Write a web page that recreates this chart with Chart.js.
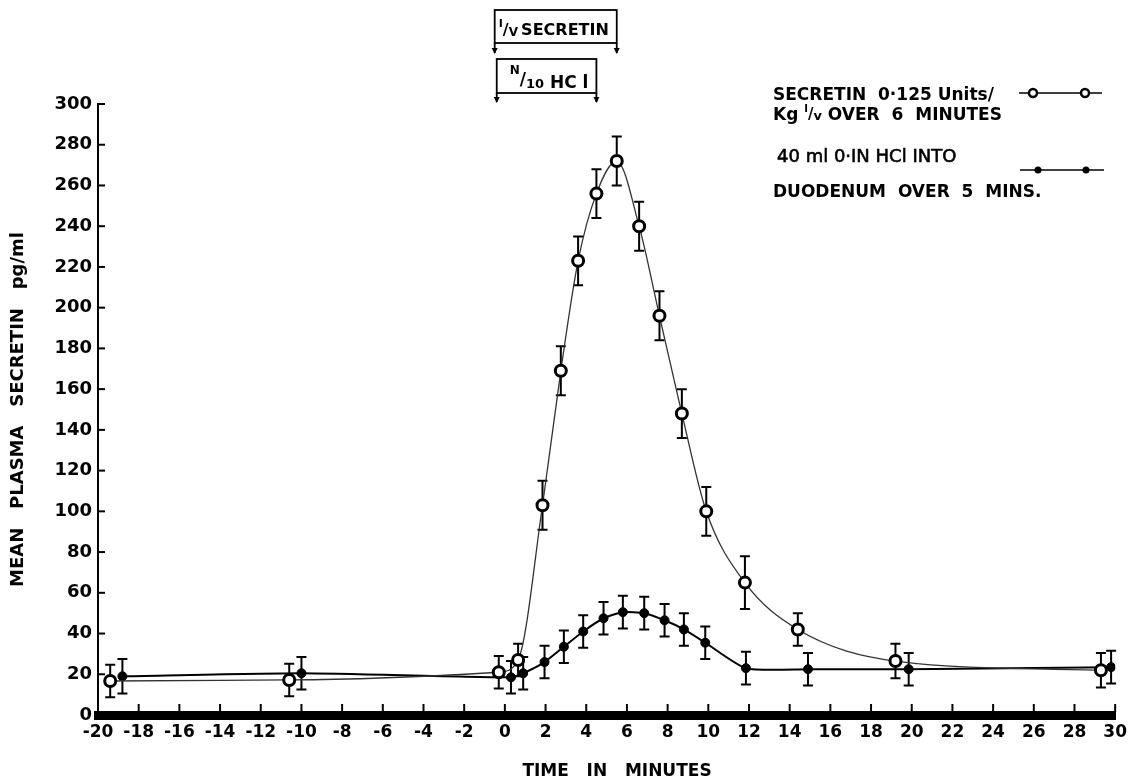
<!DOCTYPE html>
<html>
<head>
<meta charset="utf-8">
<script src="https://cdn.jsdelivr.net/npm/chart.js@4.4.1/dist/chart.umd.min.js"></script>
<style>
    html, body { margin: 0; padding: 0; background: #fff; }
    #wrap { width: 1134px; height: 777px; }
</style>
</head>
<body>
<div id="wrap"><canvas id="secretinChart" width="1134" height="777"></canvas></div>
<script>
// i/v secretin 0.125 U/kg over 6 min (open circles)
const secretinTime = [-19.4, -10.6, -0.3, 0.65, 1.85, 2.75, 3.6, 4.5, 5.5, 6.6, 7.6, 8.7, 9.9, 11.8, 14.4, 19.2, 29.3];
const secretinMean = [16.7, 17.2, 21, 27, 103, 169, 223, 256, 272, 240, 196, 148, 100, 65, 42, 26.5, 22];
const secretinErr  = [8, 8, 8, 8, 12, 12, 12, 12, 12, 12, 12, 12, 12, 13, 8, 8.5, 8.5];

// 40 ml 0.1N HCl into duodenum over 5 min (filled dots)
const hclTime = [-18.8, -10, 0.3, 0.9, 1.95, 2.9, 3.85, 4.85, 5.8, 6.85, 7.85, 8.8, 9.85, 11.85, 14.9, 19.85, 29.8];
const hclMean = [19, 20.5, 18.5, 20.5, 26, 33.5, 41, 47.5, 50.5, 50, 46.5, 42, 35.5, 23, 22.5, 22.5, 23.5];
const hclErr  = [8.5, 8, 8, 8, 8, 8, 8, 8, 8, 8, 8, 8, 8, 8, 8, 8, 8];

// infusion periods marked above the plot (minutes)
const secretinInfusion = [-0.5, 5.5];
const hclInfusion = [-0.4, 4.5];

const FONT = "'DejaVu Sans', sans-serif";

function toPoints(times, values) {
    return times.map((t, i) => ({ x: t, y: values[i] }));
}

function drawErrorBars(chart, times, means, errs) {
    const ctx = chart.ctx;
    const x = chart.scales.x;
    const y = chart.scales.y;
    ctx.save();
    ctx.strokeStyle = "#000";
    ctx.lineWidth = 2;
    times.forEach((t, i) => {
        const px = x.getPixelForValue(t);
        const top = y.getPixelForValue(means[i] + errs[i]);
        const bot = y.getPixelForValue(means[i] - errs[i]);
        ctx.beginPath();
        ctx.moveTo(px, top); ctx.lineTo(px, bot);
        ctx.moveTo(px - 5, top); ctx.lineTo(px + 5, top);
        ctx.moveTo(px - 5, bot); ctx.lineTo(px + 5, bot);
        ctx.stroke();
    });
    ctx.restore();
}

// draws a run of text pieces: [text, fontSize, dy]
function drawPieces(ctx, x, y, pieces, weight) {
    pieces.forEach(p => {
        ctx.font = (weight || "bold") + " " + p[1] + "px " + FONT;
        ctx.fillText(p[0], x, y + p[2]);
        x += ctx.measureText(p[0]).width;
    });
}

function drawArrow(ctx, px, y1, y2) {
    ctx.beginPath();
    ctx.moveTo(px, y1); ctx.lineTo(px, y2);
    ctx.stroke();
    ctx.beginPath();
    ctx.moveTo(px - 3, y2 - 5); ctx.lineTo(px + 3, y2 - 5); ctx.lineTo(px, y2 + 1);
    ctx.closePath();
    ctx.fill();
}

const paperDecor = {
    id: "paperDecor",
    beforeDatasetsDraw(chart) {
        drawErrorBars(chart, secretinTime, secretinMean, secretinErr);
        drawErrorBars(chart, hclTime, hclMean, hclErr);
    },
    afterDraw(chart) {
        const ctx = chart.ctx;
        const x = chart.scales.x;
        const y = chart.scales.y;
        const area = chart.chartArea;
        ctx.save();
        ctx.strokeStyle = "#000";
        ctx.fillStyle = "#000";

        // inward tick marks
        ctx.lineWidth = 2;
        x.ticks.forEach(t => {
            if (t.value === x.min) return;
            const px = x.getPixelForValue(t.value);
            ctx.beginPath();
            ctx.moveTo(px, area.bottom - 3);
            ctx.lineTo(px, area.bottom - 11);
            ctx.stroke();
        });
        y.ticks.forEach(t => {
            if (t.value === y.min) return;
            const py = y.getPixelForValue(t.value);
            ctx.beginPath();
            ctx.moveTo(area.left, py);
            ctx.lineTo(area.left + 7, py);
            ctx.stroke();
        });

        // infusion boxes
        ctx.lineWidth = 1.8;
        let l = x.getPixelForValue(secretinInfusion[0]);
        let r = x.getPixelForValue(secretinInfusion[1]);
        ctx.strokeRect(l, 10, r - l, 33);
        drawArrow(ctx, l, 43, 53);
        drawArrow(ctx, r, 43, 53);
        ctx.textBaseline = "alphabetic";
        drawPieces(ctx, l + 4, 35, [["I", 11, -8], ["/", 16, 0], ["V", 12, 1], ["\u2009SECRETIN", 16, 0]]);

        l = x.getPixelForValue(hclInfusion[0]);
        r = x.getPixelForValue(hclInfusion[1]);
        ctx.strokeRect(l, 59, r - l, 34);
        drawArrow(ctx, l, 93, 102);
        drawArrow(ctx, r, 93, 102);
        drawPieces(ctx, l + 13, 88, [["N", 12, -14], ["/", 17, -3], ["10", 13, 0], [" HC l", 17, 0]]);

        // legend
        drawPieces(ctx, 773, 100, [["SECRETIN  0·125 Units/", 17, 0]]);
        drawPieces(ctx, 773, 120, [["Kg ", 17, 0], ["I", 10, -8], ["/", 15, -1], ["v", 13, 0], [" OVER  6  MINUTES", 17, 0]]);
        ctx.font = "18px " + FONT;
        ctx.lineWidth = 0.6;
        ctx.fillText("40 ml 0·IN HCl INTO", 777, 162);
        ctx.strokeText("40 ml 0·IN HCl INTO", 777, 162);
        drawPieces(ctx, 773, 197, [["DUODENUM  OVER  5  MINS.", 17, 0]]);

        ctx.lineWidth = 1.5;
        ctx.beginPath();
        ctx.moveTo(1019, 93); ctx.lineTo(1102, 93);
        ctx.moveTo(1020, 170); ctx.lineTo(1104, 170);
        ctx.stroke();
        ctx.lineWidth = 2.5;
        [1033, 1085].forEach(cx => {
            ctx.beginPath();
            ctx.arc(cx, 93, 4, 0, Math.PI * 2);
            ctx.fillStyle = "#fff";
            ctx.fill();
            ctx.stroke();
        });
        ctx.fillStyle = "#000";
        [1038, 1086].forEach(cx => {
            ctx.beginPath();
            ctx.arc(cx, 170, 3.5, 0, Math.PI * 2);
            ctx.fill();
        });

        // x axis title
        ctx.font = "bold 17px " + FONT;
        ctx.textAlign = "center";
        ctx.fillText("TIME   IN   MINUTES", 617, 776);
        ctx.restore();
    }
};

const ctx = document.getElementById("secretinChart").getContext("2d");

new Chart(ctx, {
    type: "line",
    data: {
        datasets: [
            {
                label: "Secretin 0.125 U/kg i/v over 6 minutes",
                data: toPoints(secretinTime, secretinMean),
                borderColor: "#333",
                borderWidth: 1.3,
                cubicInterpolationMode: "monotone",
                pointRadius: 5.5,
                pointBorderWidth: 3,
                pointBackgroundColor: "#fff",
                pointBorderColor: "#000"
            },
            {
                label: "40 ml 0.1N HCl into duodenum over 5 mins",
                data: toPoints(hclTime, hclMean),
                borderColor: "#000",
                borderWidth: 2,
                tension: 0.2,
                pointRadius: 4.5,
                pointBackgroundColor: "#000",
                pointBorderColor: "#000",
                pointBorderWidth: 1
            }
        ]
    },
    options: {
        responsive: false,
        animation: false,
        devicePixelRatio: 1,
        layout: { padding: { top: 104, right: 17, left: 0, bottom: 0 } },
        plugins: {
            legend: { display: false },
            tooltip: { enabled: false }
        },
        scales: {
            x: {
                type: "linear",
                min: -20,
                max: 30,
                afterFit: scale => { scale.height = 62; },
                grid: { display: false, drawTicks: false },
                border: { display: true, color: "#000", width: 9 },
                ticks: {
                    stepSize: 2,
                    autoSkip: false,
                    maxRotation: 0,
                    padding: 7,
                    color: "#000",
                    font: { family: FONT, size: 17, weight: "bold" }
                }
            },
            y: {
                min: 0,
                max: 300,
                afterFit: scale => { scale.width = 98; },
                grid: { display: false, drawTicks: false },
                border: { display: true, color: "#000", width: 2 },
                ticks: {
                    stepSize: 20,
                    padding: 6,
                    color: "#000",
                    font: { family: FONT, size: 18, weight: "bold" }
                },
                title: {
                    display: true,
                    text: "MEAN   PLASMA   SECRETIN   pg/ml",
                    color: "#000",
                    padding: { top: 8, bottom: 0 },
                    font: { family: FONT, size: 18, weight: "bold" }
                }
            }
        }
    },
    plugins: [paperDecor]
});
</script>
</body>
</html>
